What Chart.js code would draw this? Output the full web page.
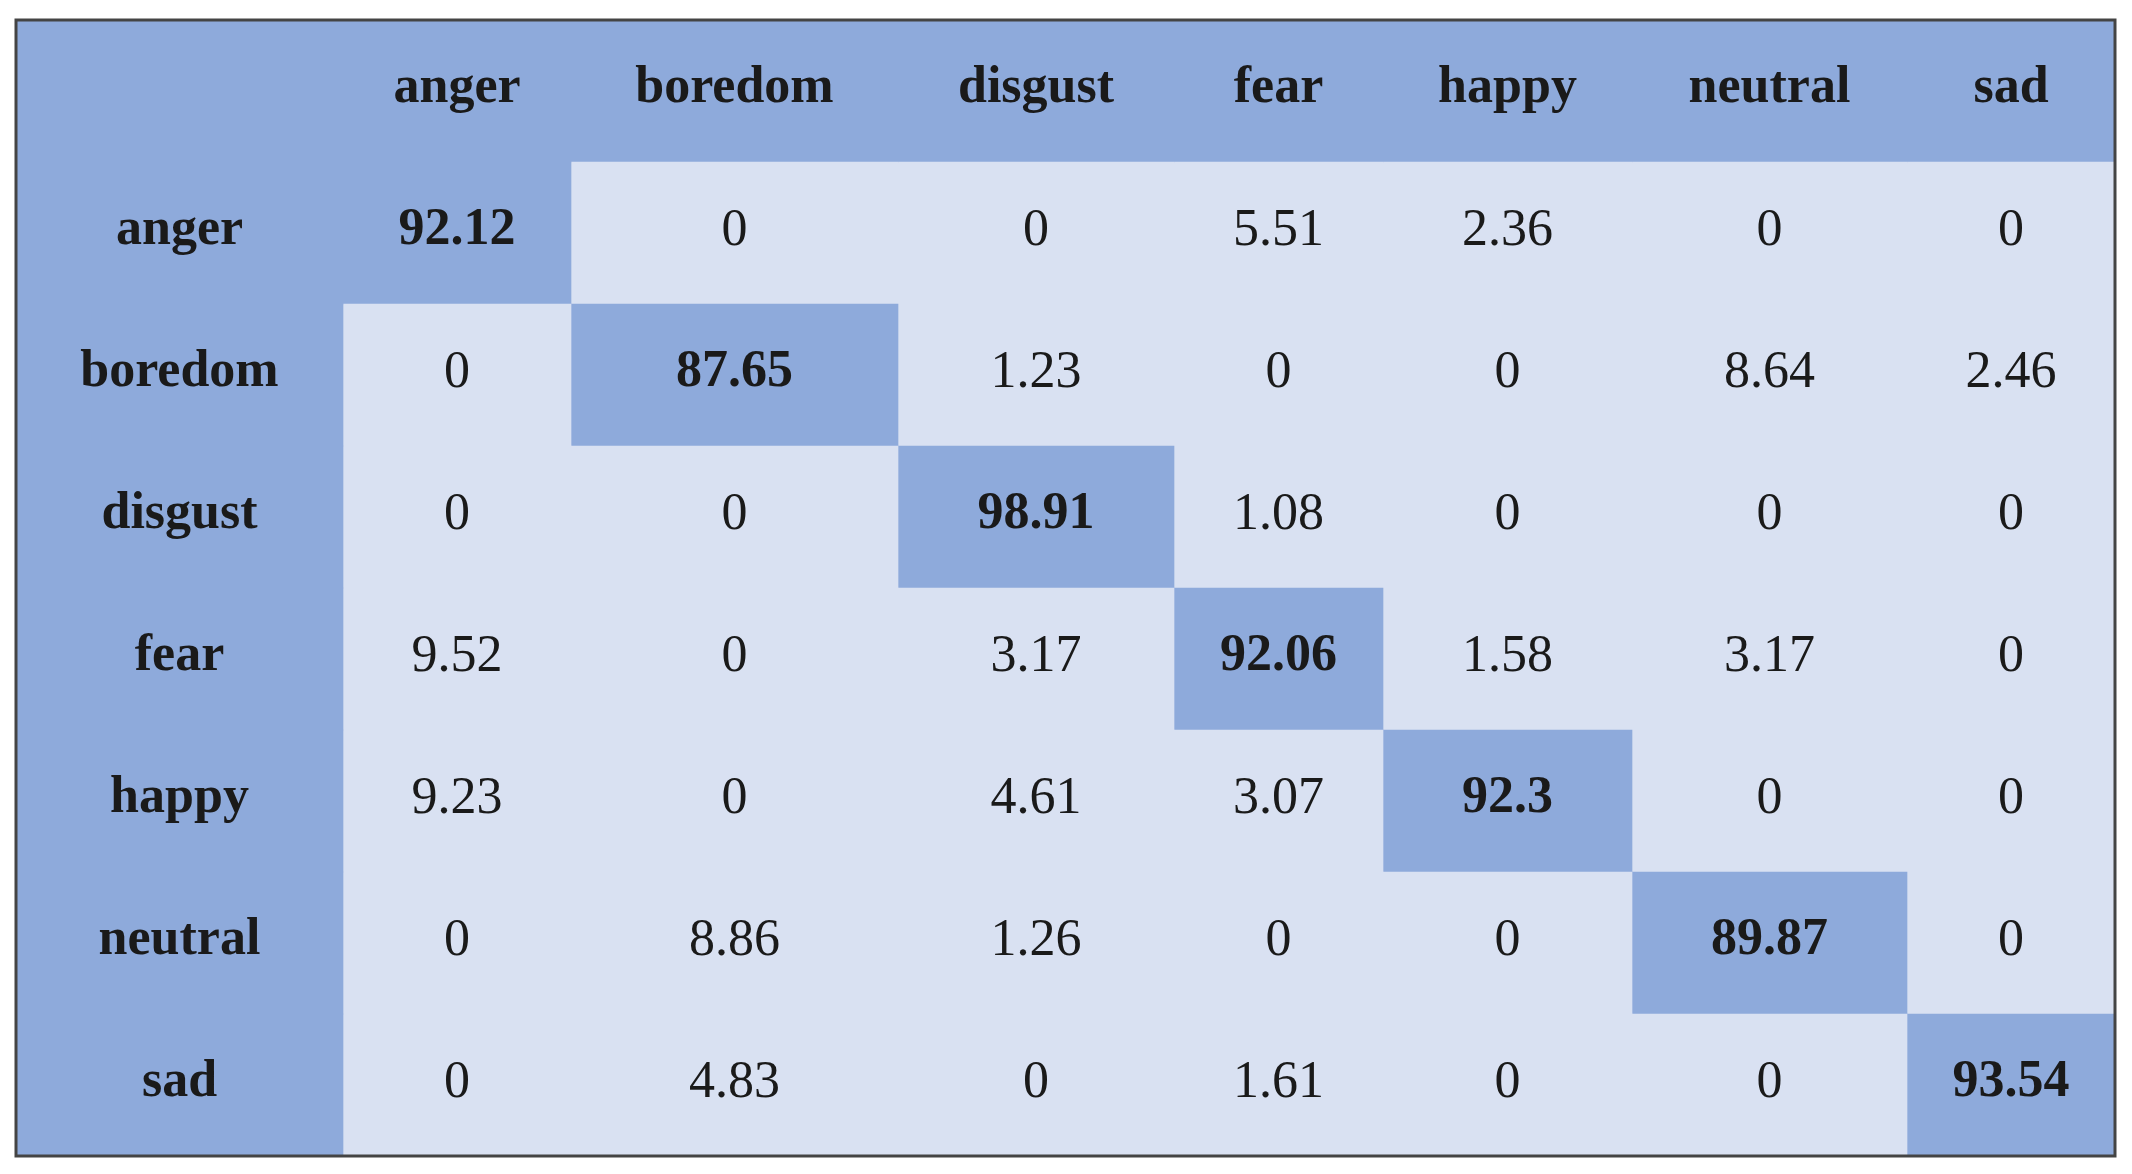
<!DOCTYPE html>
<html>
<head>
<meta charset="utf-8">
<script src="https://cdn.jsdelivr.net/npm/chart.js@4.4.1/dist/chart.umd.min.js"></script>
<style>
  html, body { margin: 0; padding: 0; background: #fff; }
  #wrap { width: 2132px; height: 1174px; }
</style>
</head>
<body>
<div id="wrap"><canvas id="cm"></canvas></div>
<script>
// Data
const classes = ['anger', 'boredom', 'disgust', 'fear', 'happy', 'neutral', 'sad'];
const anger   = [92.12, 0, 0, 5.51, 2.36, 0, 0];
const boredom = [0, 87.65, 1.23, 0, 0, 8.64, 2.46];
const disgust = [0, 0, 98.91, 1.08, 0, 0, 0];
const fear    = [9.52, 0, 3.17, 92.06, 1.58, 3.17, 0];
const happy   = [9.23, 0, 4.61, 3.07, 92.3, 0, 0];
const neutral = [0, 8.86, 1.26, 0, 0, 89.87, 0];
const sad     = [0, 4.83, 0, 1.61, 0, 0, 93.54];
const matrix = [anger, boredom, disgust, fear, happy, neutral, sad];

// Layout (column edges in canvas pixels)
const colEdges = [16, 343, 571, 898, 1174, 1383, 1632, 1907, 2115];
const dark = '#8eaadb';
const light = '#d9e1f2';
const rows = [''].concat(classes);

const datasets = [];
for (let c = 0; c < 8; c++) {
    const data = [], colors = [], texts = [], bold = [];
    rows.forEach((r, ri) => {
        data.push([colEdges[c], colEdges[c + 1]]);
        let txt, isDark, isBold;
        if (ri === 0) { txt = c === 0 ? '' : classes[c - 1]; isDark = true; isBold = true; }
        else if (c === 0) { txt = classes[ri - 1]; isDark = true; isBold = true; }
        else {
            txt = String(matrix[ri - 1][c - 1]);
            isDark = (ri === c); isBold = isDark;
        }
        colors.push(isDark ? dark : light);
        texts.push(txt);
        bold.push(isBold);
    });
    datasets.push({ data, backgroundColor: colors, texts, bold, borderWidth: 0, grouped: false,
        categoryPercentage: 1, barPercentage: 1 });
}

const cellText = {
    id: 'cellText',
    afterDatasetsDraw(chart) {
        const ctx = chart.ctx;
        ctx.save();
        ctx.textAlign = 'center';
        ctx.textBaseline = 'middle';
        ctx.fillStyle = '#1a1a1a';
        chart.data.datasets.forEach((ds, di) => {
            chart.getDatasetMeta(di).data.forEach((bar, i) => {
                const p = bar.getProps(['x', 'y', 'base'], true);
                ctx.font = (ds.bold[i] ? 'bold ' : '') + '52px "Liberation Serif", "DejaVu Serif", serif';
                ctx.fillText(ds.texts[i], (p.x + p.base) / 2, p.y - 2);
            });
        });
        const a = chart.chartArea;
        ctx.strokeStyle = '#444';
        ctx.lineWidth = 3;
        ctx.strokeRect(a.left, a.top, a.right - a.left, a.bottom - a.top);
        ctx.restore();
    }
};

new Chart(document.getElementById('cm'), {
    type: 'bar',
    data: { labels: rows, datasets },
    options: {
        indexAxis: 'y',
        responsive: true,
        maintainAspectRatio: false,
        animation: false,
        layout: { padding: { left: 16, right: 17, top: 20, bottom: 18 } },
        plugins: { legend: { display: false }, tooltip: { enabled: false } },
        scales: {
            x: { type: 'linear', min: 16, max: 2115, display: false },
            y: { display: false, offset: true }
        }
    },
    plugins: [cellText]
});
</script>
</body>
</html>
